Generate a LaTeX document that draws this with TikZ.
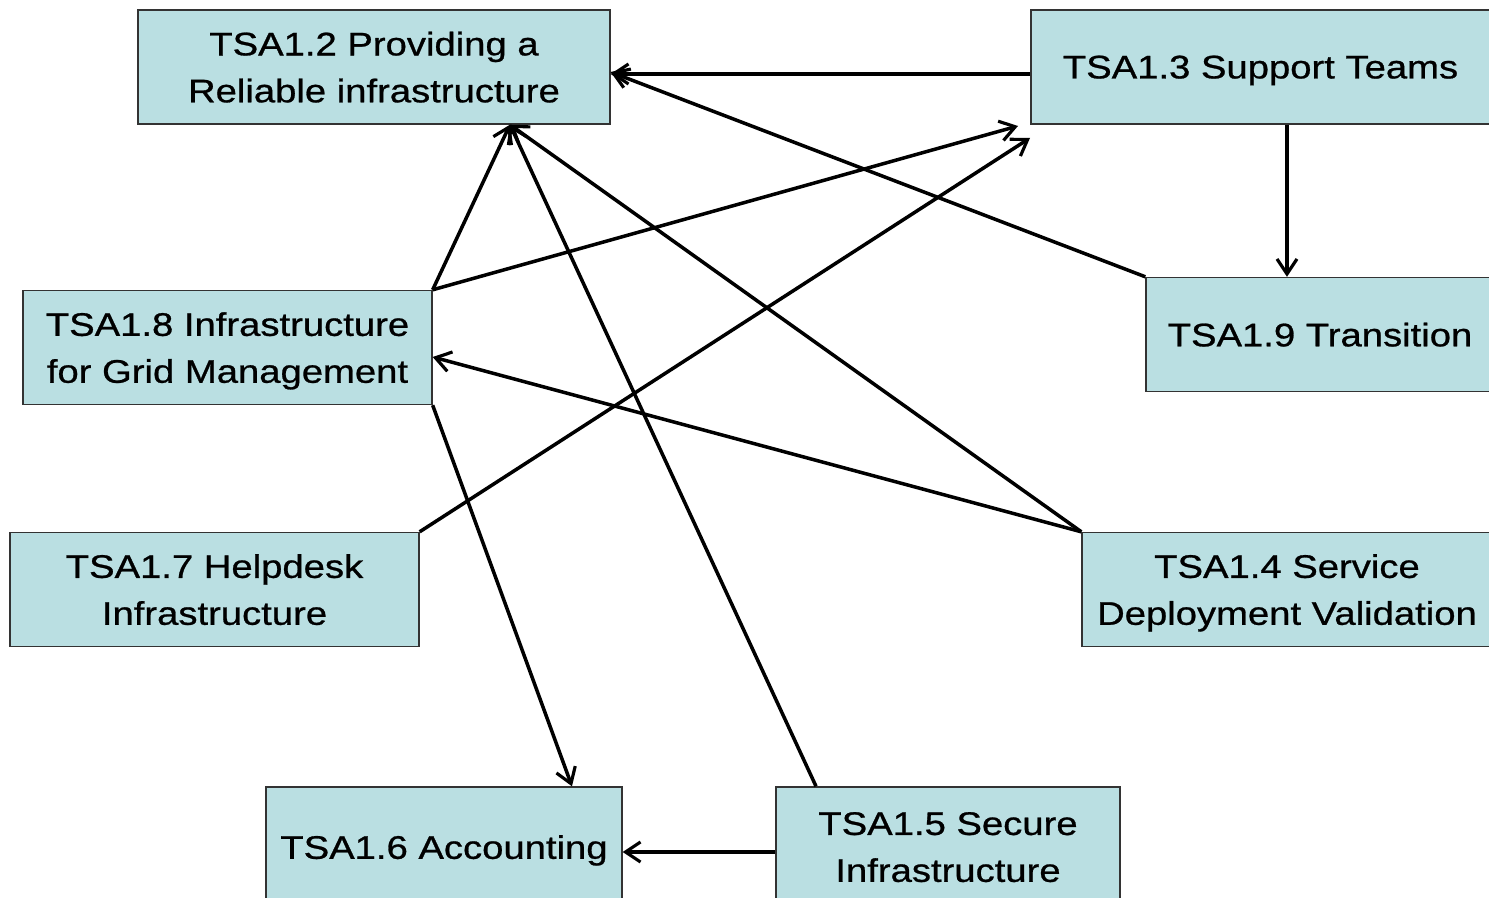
\documentclass[tikz,border=0pt]{standalone}
\usepackage{fontspec}
\setmainfont{Liberation Sans}[FakeStretch=1.17,FakeBold=0.8]
\usetikzlibrary{arrows.meta}
\definecolor{boxfill}{RGB}{186,223,226}
\tikzset{
  tsabox/.style={draw=black!80, line width=0.8pt, fill=boxfill, minimum height=2.28cm,
    inner sep=0pt, align=center, text depth=0pt, font=\fontsize{18.6}{26.7}\selectfont},
  arr/.style={-{Straight Barb[length=0.3cm,width=0.4cm,line width=1.8pt]}, line width=2pt}
}
\begin{document}
\begin{tikzpicture}[x=0.02cm,y=-0.02cm]
\useasboundingbox (0,0) rectangle (1489,898);
\begin{scope}                       % clip to the page
\clip (0,0) rectangle (1489,898);
\node[tsabox,minimum width=9.44cm] (t12) at (374,67) {TSA1.2 Providing a\\Reliable infrastructure};
\node[tsabox,minimum width=9.18cm] (t13) at (1260.5,67) {TSA1.3 Support Teams};
\node[tsabox,minimum width=6.96cm] (t19) at (1320,334.5) {TSA1.9 Transition};
\node[tsabox,minimum width=8.18cm] (t18) at (227.5,347.5) {TSA1.8 Infrastructure\\for Grid Management};
\node[tsabox,minimum width=8.18cm] (t17) at (214.5,589.5) {TSA1.7 Helpdesk\\Infrastructure};
\node[tsabox,minimum width=8.2cm] (t14) at (1287,589.5) {TSA1.4 Service\\Deployment Validation};
\node[tsabox,minimum width=7.12cm,minimum height=2.4cm] (t16) at (444,847) {TSA1.6 Accounting};
\node[tsabox,minimum width=6.88cm,minimum height=2.4cm] (t15) at (948,847) {TSA1.5 Secure\\Infrastructure};
\coordinate (t12in) at ([xshift=2.72cm]t12.south);
\coordinate (t13a) at (1018,126);   % free ends below TSA1.3
\coordinate (t13b) at (1030,138);
\draw[arr] ([yshift=-0.14cm]t13.west) -- ([yshift=-0.14cm]t12.east);
\draw[arr] (t19.north west) -- ([yshift=-0.1cm]t12.east);
\draw[arr] ([xshift=0.53cm]t13.south) coordinate (t13s) -- (t13s |- t19.north);
\draw[arr] (t18.north east) -- (t12in);
\draw[arr] (t18.north east) -- (t13a);
\draw[arr] (t17.north east) -- (t13b);
\draw[arr] (t14.north west) -- (t12in);
\draw[arr] (t14.north west) -- ([yshift=-0.19cm]t18.east);
\draw[arr] (t18.south east) -- ([xshift=2.56cm]t16.north);
\draw[arr] ([xshift=-2.64cm]t15.north) -- (t12in);
\draw[arr] ([yshift=-0.1cm]t15.west) -- ([yshift=-0.1cm]t16.east);
\end{scope}
\end{tikzpicture}
\end{document}
